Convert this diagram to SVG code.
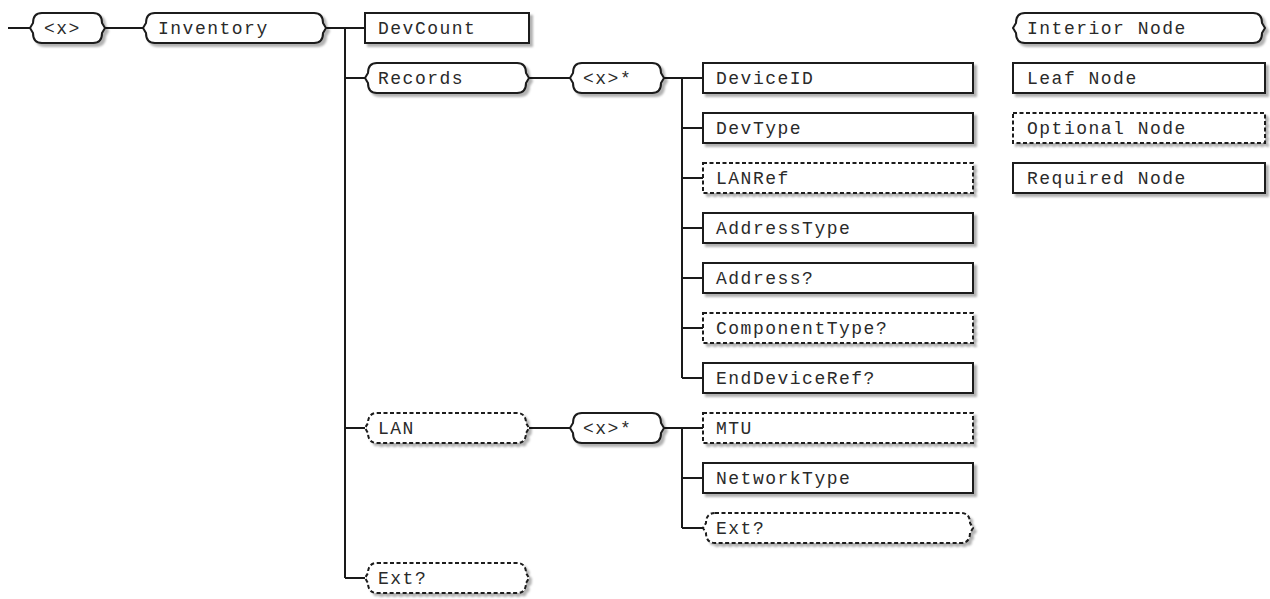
<svg xmlns="http://www.w3.org/2000/svg" width="1270" height="599" viewBox="0 0 1270 599">
<defs>
<filter id="sh" x="-5%" y="-20%" width="115%" height="150%">
<feDropShadow dx="3" dy="3" stdDeviation="1.2" flood-color="#000" flood-opacity="0.3"/>
</filter>
</defs>
<style>
.n{fill:#fff;stroke:#1a1a1a;stroke-width:2;filter:url(#sh)}
.d{stroke-dasharray:4 2.5}
.t{font-family:"Liberation Mono","Courier New",monospace;font-size:18px;letter-spacing:1.5px;fill:#2a2a2a}
.c{fill:none;stroke:#1a1a1a;stroke-width:2}
</style>
<rect width="1270" height="599" fill="#fff"/>
<g id="connectors">
<path class="c" d="M8,28 H30 M105,28 H143 M326,28 H345 V578 M345,28 H365 M345,78 H365 M345,428 H365 M345,578 H365"/>
<path class="c" d="M529,78 H570 M664,78 H682 V378 M682,78 H703 M682,128 H703 M682,178 H703 M682,228 H703 M682,278 H703 M682,328 H703 M682,378 H703"/>
<path class="c" d="M529,428 H570 M664,428 H682 V528 M682,428 H703 M682,478 H703 M682,528 H703"/>
</g>
<g id="root"><path class="n" d="M42,13 H93 C100,13 102,18 102,23 L105,28 L102,33 C102,38 100,43 93,43 H42 C35,43 33,38 33,33 L30,28 L33,23 C33,18 35,13 42,13 Z"/><text class="t" x="44" y="34">&lt;x&gt;</text></g>
<g id="inventory"><path class="n" d="M155,13 H314 C321,13 323,18 323,23 L326,28 L323,33 C323,38 321,43 314,43 H155 C148,43 146,38 146,33 L143,28 L146,23 C146,18 148,13 155,13 Z"/><text class="t" x="158" y="34">Inventory</text></g>
<g id="devcount"><rect class="n" x="365" y="13" width="164" height="30"/><text class="t" x="378" y="34">DevCount</text></g>
<g id="records"><path class="n" d="M377,63 H517 C524,63 526,68 526,73 L529,78 L526,83 C526,88 524,93 517,93 H377 C370,93 368,88 368,83 L365,78 L368,73 C368,68 370,63 377,63 Z"/><text class="t" x="378" y="84">Records</text></g>
<g id="records-x"><path class="n" d="M582,63 H652 C659,63 661,68 661,73 L664,78 L661,83 C661,88 659,93 652,93 H582 C575,93 573,88 573,83 L570,78 L573,73 C573,68 575,63 582,63 Z"/><text class="t" x="583" y="84">&lt;x&gt;*</text></g>
<g id="deviceid"><rect class="n" x="703" y="63" width="270" height="30"/><text class="t" x="716" y="84">DeviceID</text></g>
<g id="devtype"><rect class="n" x="703" y="113" width="270" height="30"/><text class="t" x="716" y="134">DevType</text></g>
<g id="lanref"><rect class="n d" x="703" y="163" width="270" height="30"/><text class="t" x="716" y="184">LANRef</text></g>
<g id="addresstype"><rect class="n" x="703" y="213" width="270" height="30"/><text class="t" x="716" y="234">AddressType</text></g>
<g id="address"><rect class="n" x="703" y="263" width="270" height="30"/><text class="t" x="716" y="284">Address?</text></g>
<g id="componenttype"><rect class="n d" x="703" y="313" width="270" height="30"/><text class="t" x="716" y="334">ComponentType?</text></g>
<g id="enddeviceref"><rect class="n" x="703" y="363" width="270" height="30"/><text class="t" x="716" y="384">EndDeviceRef?</text></g>
<g id="lan"><path class="n d" d="M377,413 H517 C524,413 526,418 526,423 L529,428 L526,433 C526,438 524,443 517,443 H377 C370,443 368,438 368,433 L365,428 L368,423 C368,418 370,413 377,413 Z"/><text class="t" x="378" y="434">LAN</text></g>
<g id="lan-x"><path class="n" d="M582,413 H652 C659,413 661,418 661,423 L664,428 L661,433 C661,438 659,443 652,443 H582 C575,443 573,438 573,433 L570,428 L573,423 C573,418 575,413 582,413 Z"/><text class="t" x="583" y="434">&lt;x&gt;*</text></g>
<g id="mtu"><rect class="n d" x="703" y="413" width="270" height="30"/><text class="t" x="716" y="434">MTU</text></g>
<g id="networktype"><rect class="n" x="703" y="463" width="270" height="30"/><text class="t" x="716" y="484">NetworkType</text></g>
<g id="lan-ext"><path class="n d" d="M715,513 H961 C968,513 970,518 970,523 L973,528 L970,533 C970,538 968,543 961,543 H715 C708,543 706,538 706,533 L703,528 L706,523 C706,518 708,513 715,513 Z"/><text class="t" x="716" y="534">Ext?</text></g>
<g id="inv-ext"><path class="n d" d="M377,563 H517 C524,563 526,568 526,573 L529,578 L526,583 C526,588 524,593 517,593 H377 C370,593 368,588 368,583 L365,578 L368,573 C368,568 370,563 377,563 Z"/><text class="t" x="378" y="584">Ext?</text></g>
<g id="legend-interior"><path class="n" d="M1025,13 H1253 C1260,13 1262,18 1262,23 L1265,28 L1262,33 C1262,38 1260,43 1253,43 H1025 C1018,43 1016,38 1016,33 L1013,28 L1016,23 C1016,18 1018,13 1025,13 Z"/><text class="t" x="1027" y="34">Interior Node</text></g>
<g id="legend-leaf"><rect class="n" x="1013" y="63" width="252" height="30"/><text class="t" x="1027" y="84">Leaf Node</text></g>
<g id="legend-optional"><rect class="n d" x="1013" y="113" width="252" height="30"/><text class="t" x="1027" y="134">Optional Node</text></g>
<g id="legend-required"><rect class="n" x="1013" y="163" width="252" height="30"/><text class="t" x="1027" y="184">Required Node</text></g>
</svg>
